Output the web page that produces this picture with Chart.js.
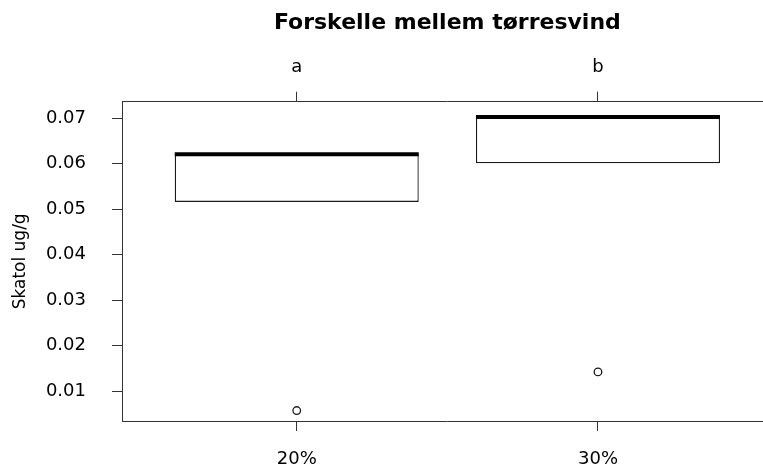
<!DOCTYPE html>
<html>
<head>
<meta charset="utf-8">
<script src="https://cdn.jsdelivr.net/npm/chart.js@4"></script>
<style>
  html, body { margin: 0; padding: 0; background: #ffffff; overflow: hidden; width: 763px; height: 470px; }
  canvas { display: block; }
</style>
</head>
<body>
<!-- the plot frame runs past the right edge of the page, so the canvas is a bit wider than the window -->
<canvas id="chart" width="778" height="470" style="width:778px;height:470px"></canvas>
<script>
// Skatol content by drying wind level
const categories = ['20%', '30%'];
const groupLetters = ['a', 'b'];
const lowerQuartile = [0.0516, 0.0601];
const upperQuartile = [0.0621, 0.0704];
const medians = [0.0621, 0.0703];
const whiskerLow = [0.0516, 0.0601];
const whiskerHigh = [0.0621, 0.0704];
const outliers = [0.0057, 0.0142];
const yTicks = [0.01, 0.02, 0.03, 0.04, 0.05, 0.06, 0.07];
const yTickLabels = ['0.01', '0.02', '0.03', '0.04', '0.05', '0.06', '0.07'];

const positions = categories.map((_, i) => i + 1);
const INK = '#1a1a1a';

Chart.defaults.font.family = 'DejaVu Sans';
Chart.defaults.color = '#000000';

// Medians (thick) and whiskers for each box, placed with the chart's own scales
const boxExtras = {
  id: 'boxExtras',
  afterDatasetsDraw(chart) {
    const meta = chart.getDatasetMeta(0);
    const yScale = chart.scales.y;
    const ctx = chart.ctx;
    ctx.save();
    meta.data.forEach((bar, i) => {
      const { x, width } = bar.getProps(['x', 'width'], true);
      const half = width / 2;
      // whiskers, only where they extend past the box
      ctx.strokeStyle = INK;
      ctx.lineWidth = 1.2;
      const pairs = [[whiskerLow[i], lowerQuartile[i]], [whiskerHigh[i], upperQuartile[i]]];
      pairs.forEach(([w, q]) => {
        if (w === q) return;
        const pw = yScale.getPixelForValue(w);
        const pq = yScale.getPixelForValue(q);
        ctx.setLineDash([5, 4]);
        ctx.beginPath(); ctx.moveTo(x, pq); ctx.lineTo(x, pw); ctx.stroke();
        ctx.setLineDash([]);
        ctx.beginPath(); ctx.moveTo(x - half / 2, pw); ctx.lineTo(x + half / 2, pw); ctx.stroke();
      });
      // median
      const pm = yScale.getPixelForValue(medians[i]);
      ctx.strokeStyle = '#000000';
      ctx.lineWidth = 4;
      ctx.beginPath();
      ctx.moveTo(x - half, pm);
      ctx.lineTo(x + half, pm);
      ctx.stroke();
    });
    ctx.restore();
  }
};

const axisLine = { display: true, color: '#333333', width: 1 };
const tickMarks = { drawOnChartArea: false, drawTicks: true, tickLength: 10, tickColor: '#333333', tickWidth: 1, offset: false };

new Chart(document.getElementById('chart'), {
  type: 'bar',
  data: {
    datasets: [
      {
        type: 'bar',
        data: positions.map((x, i) => ({ x: x, y: [lowerQuartile[i], upperQuartile[i]] })),
        backgroundColor: '#ffffff',
        borderColor: INK,
        borderWidth: 1.3,
        borderSkipped: false,
        barPercentage: 0.81,
        categoryPercentage: 1,
        xAxisID: 'x',
        yAxisID: 'y'
      },
      {
        type: 'scatter',
        data: positions.map((x, i) => ({ x: x, y: outliers[i] })),
        showLine: false,
        pointRadius: 3.8,
        pointBorderWidth: 1.3,
        pointBorderColor: INK,
        pointBackgroundColor: '#ffffff',
        xAxisID: 'x',
        yAxisID: 'y'
      }
    ]
  },
  options: {
    responsive: false,
    animation: false,
    events: [],
    layout: { padding: { left: 0, top: 0, right: 0, bottom: 0 } },
    plugins: {
      legend: { display: false },
      tooltip: { enabled: false },
      title: { display: false }
    },
    scales: {
      x: {
        type: 'linear',
        position: 'bottom',
        min: 0.42,
        max: 2.58,
        offset: false,
        afterBuildTicks: s => { s.ticks = positions.map(v => ({ value: v })); },
        afterFit: s => { s.height = 49; },
        ticks: {
          callback: (v, i) => categories[i],
          font: { size: 18 },
          color: '#000000',
          padding: 18,
          maxRotation: 0,
          autoSkip: false
        },
        grid: tickMarks,
        border: axisLine
      },
      x2: {
        type: 'linear',
        position: 'top',
        axis: 'x',
        min: 0.42,
        max: 2.58,
        offset: false,
        afterBuildTicks: s => { s.ticks = positions.map(v => ({ value: v })); },
        afterFit: s => { s.height = 101.7; },
        ticks: {
          callback: (v, i) => groupLetters[i],
          font: { size: 18 },
          color: '#000000',
          padding: 14,
          maxRotation: 0,
          autoSkip: false
        },
        title: {
          display: true,
          text: 'Forskelle mellem tørresvind',
          font: { size: 22, weight: 'bold' },
          color: '#000000',
          padding: { top: 10, bottom: 0 }
        },
        grid: tickMarks,
        border: axisLine
      },
      y: {
        type: 'linear',
        position: 'left',
        min: 0.0034,
        max: 0.07365,
        beginAtZero: false,
        afterBuildTicks: s => { s.ticks = yTicks.map(v => ({ value: v })); },
        afterFit: s => { s.width = 122; },
        ticks: {
          callback: (v, i) => yTickLabels[i],
          font: { size: 18 },
          color: '#000000',
          padding: 26
        },
        title: {
          display: true,
          text: 'Skatol ug/g',
          font: { size: 17 },
          color: '#000000',
          padding: { top: 10.5, bottom: 0 }
        },
        grid: tickMarks,
        border: axisLine
      }
    }
  },
  plugins: [boxExtras]
});
</script>
</body>
</html>
